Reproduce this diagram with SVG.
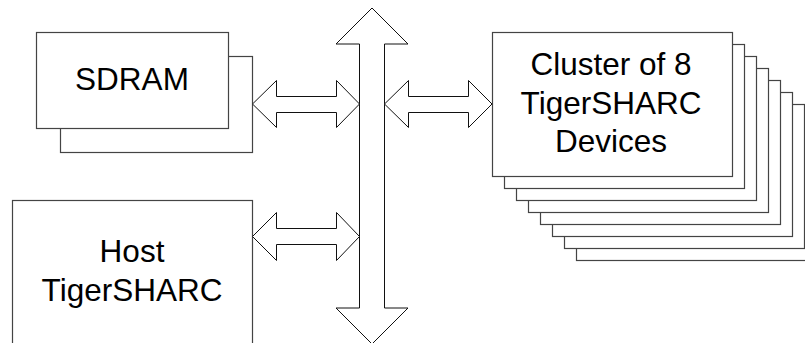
<svg xmlns="http://www.w3.org/2000/svg" width="805" height="343" viewBox="0 0 805 343">
<style>
.box{fill:#fff;stroke:#444;stroke-width:1.2}
.arr{fill:#fff;stroke:#111;stroke-width:1}
.t{font-family:"Liberation Sans",Arial,sans-serif;font-size:31.5px;fill:#000;text-anchor:middle}
</style>
<rect width="805" height="343" fill="#fff"/>
<g id="sdram">
<rect class="box" x="60.5" y="56.5" width="192" height="96"/>
<rect class="box" x="36.5" y="32.5" width="192" height="96"/>
<text class="t" x="132" y="90">SDRAM</text>
</g>
<g id="host">
<rect class="box" x="12.5" y="200.5" width="240" height="160"/>
<text class="t" x="132" y="262">Host</text>
<text class="t" x="132" y="300.5">TigerSHARC</text>
</g>
<g id="cluster">
<rect class="box" x="576.5" y="116.5" width="240" height="144"/>
<rect class="box" x="564.5" y="104.5" width="240" height="144"/>
<rect class="box" x="552.5" y="92.5" width="240" height="144"/>
<rect class="box" x="540.5" y="80.5" width="240" height="144"/>
<rect class="box" x="528.5" y="68.5" width="240" height="144"/>
<rect class="box" x="516.5" y="56.5" width="240" height="144"/>
<rect class="box" x="504.5" y="44.5" width="240" height="144"/>
<rect class="box" x="492.5" y="32.5" width="240" height="144"/>
<text class="t" x="611" y="75">Cluster of 8</text>
<text class="t" x="611" y="113.5">TigerSHARC</text>
<text class="t" x="611" y="152">Devices</text>
</g>
<g id="connectors">
<polygon id="bus" class="arr" points="372,8 408,44 384.5,44 384.5,308 408,308 372,344 336,308 359.5,308 359.5,44 336,44"/>
<polygon id="sdram-bus" class="arr" points="252.5,104 276.5,80.5 276.5,96.5 336.5,96.5 336.5,80.5 359.5,104 336.5,127.5 336.5,112.5 276.5,112.5 276.5,127.5"/>
<polygon id="host-bus" class="arr" points="252.5,236.5 276.5,212.5 276.5,228.5 336.5,228.5 336.5,212.5 359.5,236.5 336.5,260.5 336.5,244.5 276.5,244.5 276.5,260.5"/>
<polygon id="bus-cluster" class="arr" points="384.5,104 408.5,80.5 408.5,96.5 468.5,96.5 468.5,80.5 492,104 468.5,127.5 468.5,112.5 408.5,112.5 408.5,127.5"/>
</g>
</svg>
